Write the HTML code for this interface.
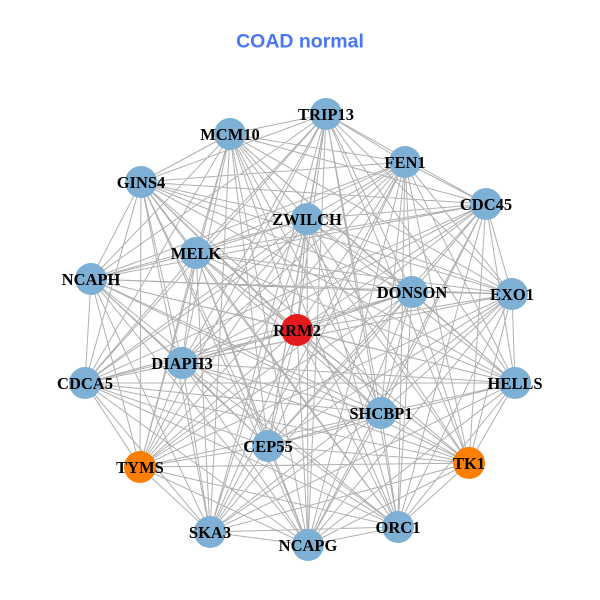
<!DOCTYPE html>
<html><head><meta charset="utf-8"><style>
html,body{margin:0;padding:0;background:#fff;width:600px;height:600px;overflow:hidden}
svg{display:block}
.l{font-family:"Liberation Serif","DejaVu Serif",serif;font-weight:bold;font-size:16.5px;fill:#000;text-anchor:middle}
</style></head><body>
<svg width="600" height="600" viewBox="0 0 600 600" xmlns="http://www.w3.org/2000/svg">
<rect width="600" height="600" fill="#fff"/>
<text x="300" y="47.3" text-anchor="middle" font-family="Liberation Sans, Arial, sans-serif" font-weight="bold" font-size="19.5" fill="#4a77f5">COAD normal</text>
<path fill="none" stroke="#b0b0b0" stroke-width="1" d="
M326 114L230 134M326 114L405 162M326 114L141 182M326 114L486 204M326 114L307 219M326 114L196 253M326 114L91 279M326 114L412 292M326 114L512 294M326 114L297 330M326 114L182 363M326 114L85 383M326 114L515 383M326 114L381 413M326 114L268 446M326 114L140 467M326 114L469 463M326 114L210 532M326 114L398 527M326 114L308 545
M230 134L405 162M230 134L141 182M230 134L486 204M230 134L307 219M230 134L196 253M230 134L91 279M230 134L412 292M230 134L512 294M230 134L297 330M230 134L182 363M230 134L85 383M230 134L515 383M230 134L381 413M230 134L268 446M230 134L140 467M230 134L469 463M230 134L210 532M230 134L398 527M230 134L308 545
M405 162L141 182M405 162L486 204M405 162L307 219M405 162L196 253M405 162L91 279M405 162L412 292M405 162L512 294M405 162L297 330M405 162L182 363M405 162L85 383M405 162L515 383M405 162L381 413M405 162L268 446M405 162L140 467M405 162L469 463M405 162L210 532M405 162L398 527M405 162L308 545
M141 182L486 204M141 182L307 219M141 182L196 253M141 182L91 279M141 182L412 292M141 182L512 294M141 182L297 330M141 182L182 363M141 182L85 383M141 182L515 383M141 182L381 413M141 182L268 446M141 182L140 467M141 182L469 463M141 182L210 532M141 182L398 527M141 182L308 545
M486 204L307 219M486 204L196 253M486 204L91 279M486 204L412 292M486 204L512 294M486 204L297 330M486 204L182 363M486 204L85 383M486 204L515 383M486 204L381 413M486 204L268 446M486 204L140 467M486 204L469 463M486 204L210 532M486 204L398 527M486 204L308 545
M307 219L196 253M307 219L91 279M307 219L412 292M307 219L512 294M307 219L297 330M307 219L182 363M307 219L85 383M307 219L515 383M307 219L381 413M307 219L268 446M307 219L140 467M307 219L469 463M307 219L210 532M307 219L398 527M307 219L308 545
M196 253L91 279M196 253L412 292M196 253L512 294M196 253L297 330M196 253L182 363M196 253L85 383M196 253L515 383M196 253L381 413M196 253L268 446M196 253L140 467M196 253L469 463M196 253L210 532M196 253L398 527M196 253L308 545
M91 279L412 292M91 279L512 294M91 279L297 330M91 279L182 363M91 279L85 383M91 279L515 383M91 279L381 413M91 279L268 446M91 279L140 467M91 279L469 463M91 279L210 532M91 279L398 527M91 279L308 545
M412 292L512 294M412 292L297 330M412 292L182 363M412 292L85 383M412 292L515 383M412 292L381 413M412 292L268 446M412 292L140 467M412 292L469 463M412 292L210 532M412 292L398 527M412 292L308 545
M512 294L297 330M512 294L182 363M512 294L85 383M512 294L515 383M512 294L381 413M512 294L268 446M512 294L140 467M512 294L469 463M512 294L210 532M512 294L398 527M512 294L308 545
M297 330L182 363M297 330L85 383M297 330L515 383M297 330L381 413M297 330L268 446M297 330L140 467M297 330L469 463M297 330L210 532M297 330L398 527M297 330L308 545
M182 363L85 383M182 363L515 383M182 363L381 413M182 363L268 446M182 363L140 467M182 363L469 463M182 363L210 532M182 363L398 527M182 363L308 545
M85 383L515 383M85 383L381 413M85 383L268 446M85 383L140 467M85 383L469 463M85 383L210 532M85 383L398 527M85 383L308 545
M515 383L381 413M515 383L268 446M515 383L140 467M515 383L469 463M515 383L210 532M515 383L398 527M515 383L308 545
M381 413L268 446M381 413L140 467M381 413L469 463M381 413L210 532M381 413L398 527M381 413L308 545
M268 446L140 467M268 446L469 463M268 446L210 532M268 446L398 527M268 446L308 545
M140 467L469 463M140 467L210 532M140 467L398 527M140 467L308 545
M469 463L210 532M469 463L398 527M469 463L308 545
M210 532L398 527M210 532L308 545
M398 527L308 545"/>
<g fill="#7eb0d5">
<circle cx="326" cy="114" r="16"/>
<circle cx="230" cy="134" r="16"/>
<circle cx="405" cy="162" r="16"/>
<circle cx="141" cy="182" r="16"/>
<circle cx="486" cy="204" r="16"/>
<circle cx="307" cy="219" r="16"/>
<circle cx="196" cy="253" r="16"/>
<circle cx="91" cy="279" r="16"/>
<circle cx="412" cy="292" r="16"/>
<circle cx="512" cy="294" r="16"/>
<circle cx="182" cy="363" r="16"/>
<circle cx="85" cy="383" r="16"/>
<circle cx="515" cy="383" r="16"/>
<circle cx="381" cy="413" r="16"/>
<circle cx="268" cy="446" r="16"/>
<circle cx="210" cy="532" r="16"/>
<circle cx="398" cy="527" r="16"/>
<circle cx="308" cy="545" r="16"/>
</g>
<circle cx="297" cy="330" r="16" fill="#e41a1c"/>
<circle cx="140" cy="467" r="16" fill="#ff7f00"/>
<circle cx="469" cy="463" r="16" fill="#ff7f00"/>
<g class="l">
<text class="l" x="326" y="120">TRIP13</text>
<text class="l" x="230" y="140">MCM10</text>
<text class="l" x="405" y="168">FEN1</text>
<text class="l" x="141" y="188">GINS4</text>
<text class="l" x="486" y="210">CDC45</text>
<text class="l" x="307" y="225">ZWILCH</text>
<text class="l" x="196" y="259">MELK</text>
<text class="l" x="91" y="285">NCAPH</text>
<text class="l" x="412" y="298">DONSON</text>
<text class="l" x="512" y="300">EXO1</text>
<text class="l" x="297" y="336">RRM2</text>
<text class="l" x="182" y="369">DIAPH3</text>
<text class="l" x="85" y="389">CDCA5</text>
<text class="l" x="515" y="389">HELLS</text>
<text class="l" x="381" y="419">SHCBP1</text>
<text class="l" x="268" y="452">CEP55</text>
<text class="l" x="140" y="473">TYMS</text>
<text class="l" x="469" y="469">TK1</text>
<text class="l" x="210" y="538">SKA3</text>
<text class="l" x="398" y="533">ORC1</text>
<text class="l" x="308" y="551">NCAPG</text>
</g>
</svg>
</body></html>
